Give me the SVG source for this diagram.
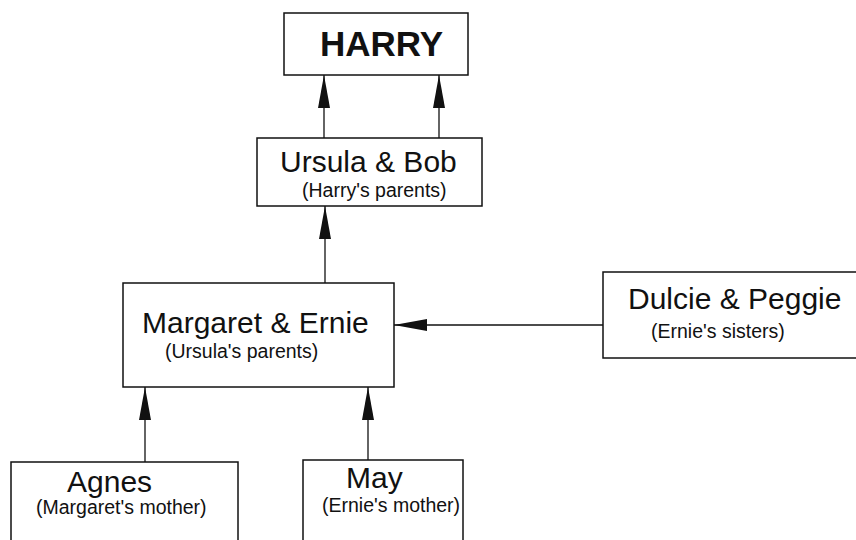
<svg xmlns="http://www.w3.org/2000/svg" width="856" height="540" viewBox="0 0 856 540">
<defs>
<style>
.box{fill:#fff;stroke:#111;stroke-width:1.5}
.t{font-family:"Liberation Sans",Arial,sans-serif;font-size:30px;fill:#111}
.h{font-family:"Liberation Sans",Arial,sans-serif;font-size:35px;font-weight:bold;fill:#111}
.s{font-family:"Liberation Sans",Arial,sans-serif;font-size:19.5px;fill:#111}
.c{stroke:#111;stroke-width:1.3;fill:none;marker-end:url(#ah)}
</style>
<marker id="ah" viewBox="0 0 33 12" refX="33" refY="6" markerWidth="33" markerHeight="12" orient="auto" markerUnits="userSpaceOnUse">
<path d="M0,0 L33,6 L0,12 Z" fill="#111"/>
</marker>
</defs>
<rect width="856" height="540" fill="#fff"/>
<g id="connectors">
<line class="c" x1="324" y1="138" x2="324" y2="75"/>
<line class="c" x1="439" y1="138" x2="439" y2="75"/>
<line class="c" x1="325" y1="283" x2="325" y2="206"/>
<line class="c" x1="603" y1="325" x2="394" y2="325"/>
<line class="c" x1="145" y1="462" x2="145" y2="387"/>
<line class="c" x1="368" y1="460" x2="368" y2="387"/>
</g>
<g id="harry">
<rect class="box" x="284" y="13" width="184" height="62"/>
<text class="h" x="320" y="56">HARRY</text>
</g>
<g id="ursula-bob">
<rect class="box" x="257" y="138" width="225" height="68"/>
<text class="t" x="280" y="172">Ursula &amp; Bob</text>
<text class="s" x="302" y="197">(Harry's parents)</text>
</g>
<g id="margaret-ernie">
<rect class="box" x="123" y="283" width="271" height="104"/>
<text class="t" x="142" y="333">Margaret &amp; Ernie</text>
<text class="s" x="165" y="358">(Ursula's parents)</text>
</g>
<g id="dulcie-peggie">
<rect class="box" x="603" y="272" width="270" height="86"/>
<text class="t" x="628" y="309">Dulcie &amp; Peggie</text>
<text class="s" x="651" y="338">(Ernie's sisters)</text>
</g>
<g id="agnes">
<rect class="box" x="11" y="462" width="227" height="100"/>
<text class="t" x="67" y="492">Agnes</text>
<text class="s" x="36" y="514">(Margaret's mother)</text>
</g>
<g id="may">
<rect class="box" x="303" y="460" width="160" height="100"/>
<text class="t" x="346" y="488">May</text>
<text class="s" x="322" y="512">(Ernie's mother)</text>
</g>
</svg>
